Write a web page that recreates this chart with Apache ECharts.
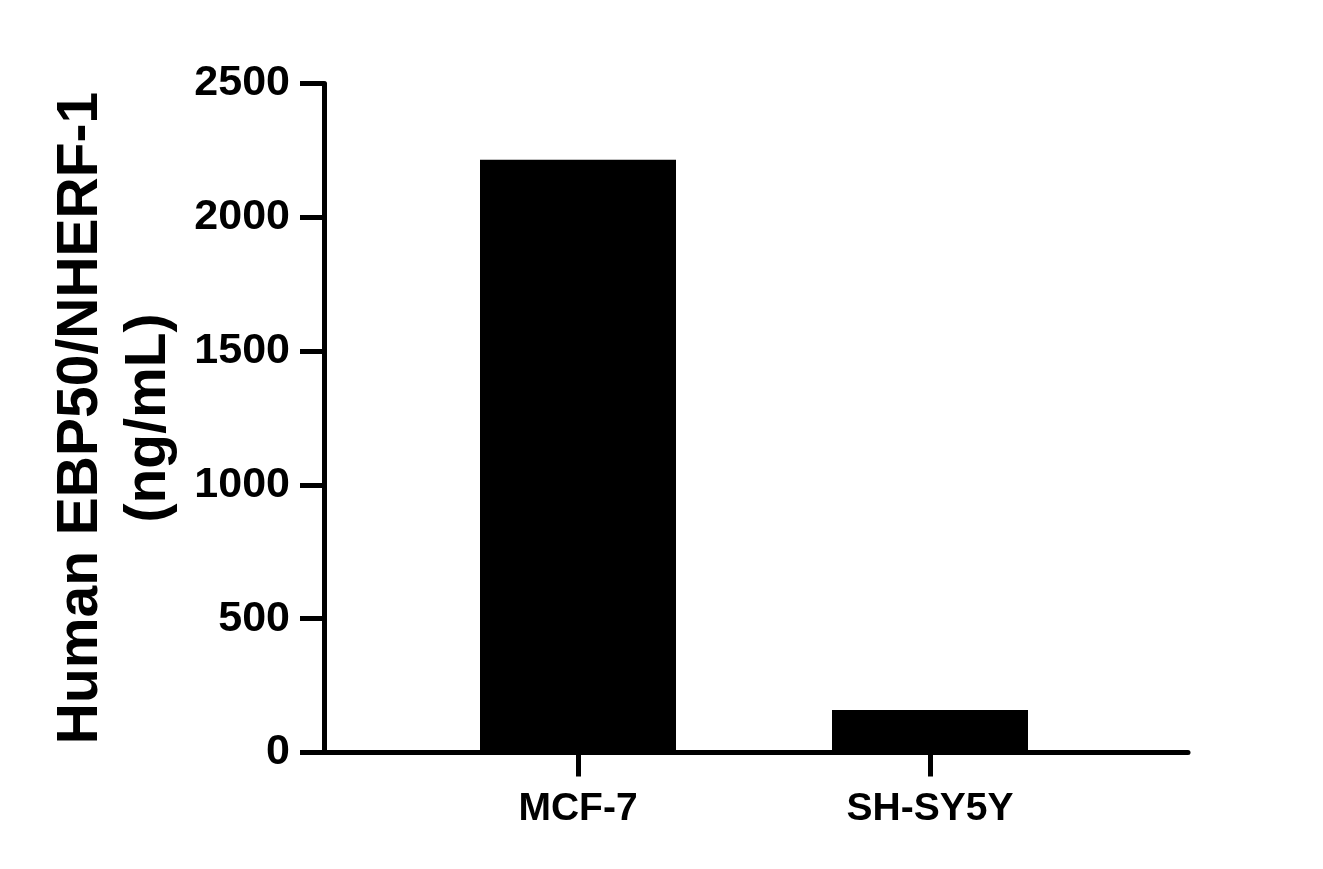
<!DOCTYPE html>
<html>
<head>
<meta charset="utf-8">
<script src="https://cdn.jsdelivr.net/npm/echarts@6/dist/echarts.min.js"></script>
<style>
html,body{margin:0;padding:0;background:#fff;}
#chart{width:1323px;height:869px;}
</style>
</head>
<body>
<div id="chart"></div>
<script>
var categories = ['MCF-7', 'SH-SY5Y'];
var values = [2215, 159];
var yTicks = [0, 500, 1000, 1500, 2000, 2500];
var yAxisTitle = 'Human EBP50/NHERF-1\n(ng/mL)';

var FONT = '"Liberation Sans", Arial, Helvetica, sans-serif';
var chart = echarts.init(document.getElementById('chart'), null, {renderer: 'canvas'});
var option = {
  backgroundColor: '#ffffff',
  animation: false,
  grid: [
    {left: 324, right: 135, top: 83.5, bottom: 116.5},
    {left: 402, right: 217, top: 83.5, bottom: 116.5}
  ],
  xAxis: [
    {
      gridIndex: 0, type: 'value', min: 0, max: 1,
      axisLine: {show: true, onZero: false, lineStyle: {color: '#000', width: 5}},
      axisTick: {show: false}, axisLabel: {show: false}, splitLine: {show: false}
    },
    {
      gridIndex: 1, type: 'category', data: categories,
      axisLine: {show: false},
      axisTick: {show: true, alignWithLabel: true, length: 24, lineStyle: {color: '#000', width: 5}},
      axisLabel: {margin: 37, fontSize: 39, fontWeight: 'bold', color: '#000', fontFamily: FONT},
      splitLine: {show: false}
    }
  ],
  yAxis: [
    {
      gridIndex: 0, type: 'value', min: yTicks[0], max: yTicks[yTicks.length - 1], interval: 500,
      name: yAxisTitle, nameLocation: 'middle', nameRotate: 90, nameGap: 138,
      nameTextStyle: {fontSize: 57, fontWeight: 'bold', color: '#000', fontFamily: FONT, lineHeight: 68, align: 'center'},
      axisLine: {show: true, lineStyle: {color: '#000', width: 5}},
      axisTick: {show: true, length: 24, lineStyle: {color: '#000', width: 5}},
      axisLabel: {margin: 34, fontSize: 43, fontWeight: 'bold', color: '#000', fontFamily: FONT,
        formatter: function (v) { return String(v); }},
      splitLine: {show: false}
    },
    {
      gridIndex: 1, type: 'value', min: yTicks[0], max: yTicks[yTicks.length - 1], show: false
    }
  ],
  series: [{
    type: 'bar', xAxisIndex: 1, yAxisIndex: 1,
    data: values, barWidth: 196,
    itemStyle: {color: '#000'}
  }]
};
chart.setOption(option);
</script>
</body>
</html>
